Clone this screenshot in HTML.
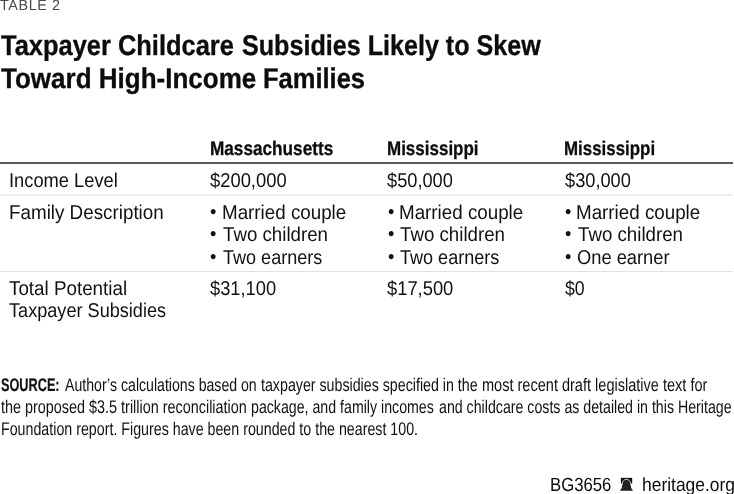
<!DOCTYPE html>
<html lang="en">
<head>
<meta charset="utf-8">
<title>Table 2: Taxpayer Childcare Subsidies Likely to Skew Toward High-Income Families</title>
<style>
html,body{margin:0;padding:0;background:#fff}
body{width:734px;height:494px;position:relative;overflow:hidden;font-family:"Liberation Sans",sans-serif;text-rendering:geometricPrecision}
.l{position:absolute;white-space:nowrap;line-height:1;transform-origin:0 0;margin:0;font-weight:400}
.rule{position:absolute;left:0;width:733px}
h1,p,header,main,footer{margin:0;padding:0;font-size:0;line-height:0;font-weight:400}
b{font-weight:700}
</style>
</head>
<body>
<header>
<p class="l" id="lbl" style="left:0.45px;top:-1px;font-size:14.60px;color:#4a4a4a;transform:scaleX(0.9843);letter-spacing:0.6px">TABLE 2</p>
<h1><span class="l" id="t1a" style="left:1.13px;top:32px;font-size:28.50px;color:#0c0c0c;transform:scaleX(0.8926);font-weight:700;-webkit-text-stroke:0.35px #111">Taxpayer Childcare</span> <span class="l" id="t1b" style="left:241.59px;top:32px;font-size:28.50px;color:#0c0c0c;transform:scaleX(0.8814);font-weight:700;-webkit-text-stroke:0.35px #111">Subsidies Likely to Skew</span> <span class="l" id="t2a" style="left:1.11px;top:65px;font-size:28.50px;color:#0c0c0c;transform:scaleX(0.9125);font-weight:700;-webkit-text-stroke:0.35px #111">Toward High-Income</span> <span class="l" id="t2b" style="left:263.45px;top:65px;font-size:28.50px;color:#0c0c0c;transform:scaleX(0.8948);font-weight:700;-webkit-text-stroke:0.35px #111">Families</span></h1>
</header>
<main>
<div role="table" aria-label="Taxpayer childcare subsidies by family">
<div role="row"><div role="columnheader"></div><div role="columnheader"><span class="l" id="h2" style="left:209.76px;top:140px;font-size:19.80px;color:#0c0c0c;transform:scaleX(0.8687);font-weight:700;-webkit-text-stroke:0.3px #111">Massachusetts</span></div><div role="columnheader"><span class="l" id="h3" style="left:387.00px;top:140px;font-size:19.80px;color:#0c0c0c;transform:scaleX(0.8587);font-weight:700;-webkit-text-stroke:0.3px #111">Mississippi</span></div><div role="columnheader"><span class="l" id="h4" style="left:563.81px;top:140px;font-size:19.80px;color:#0c0c0c;transform:scaleX(0.8545);font-weight:700;-webkit-text-stroke:0.3px #111">Mississippi</span></div></div>
<div class="rule" style="top:162px;height:2px;background:#5a5a5a"></div>
<div role="row"><div role="rowheader"><span class="l" id="r1a" style="left:8.68px;top:171px;font-size:20.00px;color:#111;transform:scaleX(0.9152)">Income Level</span></div><div role="cell"><span class="l" id="r1b" style="left:209.62px;top:171px;font-size:20.00px;color:#111;transform:scaleX(0.9186)">$200,000</span></div><div role="cell"><span class="l" id="r1c" style="left:387.32px;top:171px;font-size:20.00px;color:#111;transform:scaleX(0.9116)">$50,000</span></div><div role="cell"><span class="l" id="r1d" style="left:564.57px;top:171px;font-size:20.00px;color:#111;transform:scaleX(0.9116)">$30,000</span></div></div>
<div class="rule" style="top:194px;height:2px;background:#ededed"></div>
<div role="row"><div role="rowheader"><span class="l" id="r2a" style="left:9.01px;top:203px;font-size:20.00px;color:#111;transform:scaleX(0.9407)">Family Description</span></div><div role="cell"><span class="l" id="r2b1k" style="left:210.15px;top:203px;font-size:19.20px;color:#111;transform:scaleX(0.9458)">•</span> <span class="l" id="r2b1" style="left:221.62px;top:203px;font-size:20.00px;color:#111;transform:scaleX(0.9392)">Married couple</span> <span class="l" id="r2b2k" style="left:210.15px;top:225px;font-size:19.20px;color:#111;transform:scaleX(0.9458)">•</span> <span class="l" id="r2b2" style="left:222.93px;top:225px;font-size:20.00px;color:#111;transform:scaleX(0.9347)">Two children</span> <span class="l" id="r2b3k" style="left:210.15px;top:248px;font-size:19.20px;color:#111;transform:scaleX(0.9458)">•</span> <span class="l" id="r2b3" style="left:222.99px;top:248px;font-size:20.00px;color:#111;transform:scaleX(0.9026)">Two earners</span></div><div role="cell"><span class="l" id="r2c1k" style="left:387.60px;top:203px;font-size:19.20px;color:#111;transform:scaleX(0.9458)">•</span> <span class="l" id="r2c1" style="left:398.82px;top:203px;font-size:20.00px;color:#111;transform:scaleX(0.9392)">Married couple</span> <span class="l" id="r2c2k" style="left:387.60px;top:225px;font-size:19.20px;color:#111;transform:scaleX(0.9458)">•</span> <span class="l" id="r2c2" style="left:400.13px;top:225px;font-size:20.00px;color:#111;transform:scaleX(0.9347)">Two children</span> <span class="l" id="r2c3k" style="left:387.60px;top:248px;font-size:19.20px;color:#111;transform:scaleX(0.9458)">•</span> <span class="l" id="r2c3" style="left:400.19px;top:248px;font-size:20.00px;color:#111;transform:scaleX(0.9026)">Two earners</span></div><div role="cell"><span class="l" id="r2d1k" style="left:564.55px;top:203px;font-size:19.20px;color:#111;transform:scaleX(0.9458)">•</span> <span class="l" id="r2d1" style="left:576.02px;top:203px;font-size:20.00px;color:#111;transform:scaleX(0.9392)">Married couple</span> <span class="l" id="r2d2k" style="left:564.55px;top:225px;font-size:19.20px;color:#111;transform:scaleX(0.9458)">•</span> <span class="l" id="r2d2" style="left:577.58px;top:225px;font-size:20.00px;color:#111;transform:scaleX(0.9347)">Two children</span> <span class="l" id="r2d3k" style="left:564.55px;top:248px;font-size:19.20px;color:#111;transform:scaleX(0.9458)">•</span> <span class="l" id="r2d3" style="left:577.28px;top:248px;font-size:20.00px;color:#111;transform:scaleX(0.9149)">One earner</span></div></div>
<div class="rule" style="top:271px;height:1px;background:#e2e2e2"></div>
<div role="row"><div role="rowheader"><span class="l" id="r3a1" style="left:9.33px;top:279px;font-size:20.00px;color:#111;transform:scaleX(0.9400)">Total Potential</span> <span class="l" id="r3a2" style="left:9.36px;top:301px;font-size:20.00px;color:#111;transform:scaleX(0.9059)">Taxpayer Subsidies</span></div><div role="cell"><span class="l" id="r3b" style="left:209.63px;top:279px;font-size:20.00px;color:#111;transform:scaleX(0.9136)">$31,100</span></div><div role="cell"><span class="l" id="r3c" style="left:387.32px;top:279px;font-size:20.00px;color:#111;transform:scaleX(0.9168)">$17,500</span></div><div role="cell"><span class="l" id="r3d" style="left:565.41px;top:279px;font-size:20.00px;color:#111;transform:scaleX(0.8865)">$0</span></div></div>
</div>
<p class="note"><span class="l" id="s1a" style="left:0.50px;top:376px;font-size:18.30px;color:#111;transform:scaleX(0.6949);-webkit-text-stroke:0.2px #111"><b>SOURCE:</b></span> <span class="l" id="s1b" style="left:64.80px;top:376px;font-size:18.30px;color:#111;transform:scaleX(0.7721)">Author’s calculations based on</span> <span class="l" id="s1c" style="left:261.30px;top:376px;font-size:18.30px;color:#111;transform:scaleX(0.7779)">taxpayer subsidies specified in the</span> <span class="l" id="s1d" style="left:481.98px;top:376px;font-size:18.30px;color:#111;transform:scaleX(0.7949)">most recent draft legislative text for</span> <span class="l" id="s2a" style="left:1.35px;top:398px;font-size:18.30px;color:#111;transform:scaleX(0.7878)">the proposed $3.5 trillion reconciliation</span> <span class="l" id="s2b" style="left:251.23px;top:398px;font-size:18.30px;color:#111;transform:scaleX(0.7754)">package, and family incomes</span> <span class="l" id="s2c" style="left:438.73px;top:398px;font-size:18.30px;color:#111;transform:scaleX(0.7760)">and childcare costs as detailed in this Heritage</span> <span class="l" id="s3" style="left:1.27px;top:420px;font-size:18.30px;color:#111;transform:scaleX(0.7787)">Foundation report. Figures have been rounded to the nearest 100.</span></p>
</main>
<footer><span class="l" id="f1" style="left:549.84px;top:476px;font-size:19.00px;color:#0c0c0c;transform:scaleX(0.8809)">BG3656</span> <svg role="img" aria-label="Heritage bell logo" style="position:absolute;left:619px;top:477px" width="16" height="15" viewBox="0 0 16 15"><rect x="1.9" y="0.85" width="11.3" height="5.7" fill="#111"/><path d="M7.4 2.9 C9.8 2.9 11.2 4.8 11.6 7.5 C11.7 8.3 11.8 8.8 11.8 9.1 C12 10.3 12.3 11 12.5 11.4 C12.8 12 13.5 12.8 14.1 13.8 L0.8 13.8 C1.4 12.8 2.1 12 2.5 11.4 C2.8 11 3 10.3 3.1 9.1 C3.1 8.8 3.2 8.3 3.3 7.5 C3.7 4.8 5 2.9 7.4 2.9Z" fill="#231f20"/><path d="M2.85 8 C3.2 4.6 4.8 2.4 7.4 2.4 C10 2.4 11.6 4.6 12.05 7.6" fill="none" stroke="#fff" stroke-width="0.8"/></svg> <span class="l" id="f2" style="left:642.13px;top:476px;font-size:19.00px;color:#0c0c0c;transform:scaleX(0.9176)">heritage.org</span></footer>
</body>
</html>
